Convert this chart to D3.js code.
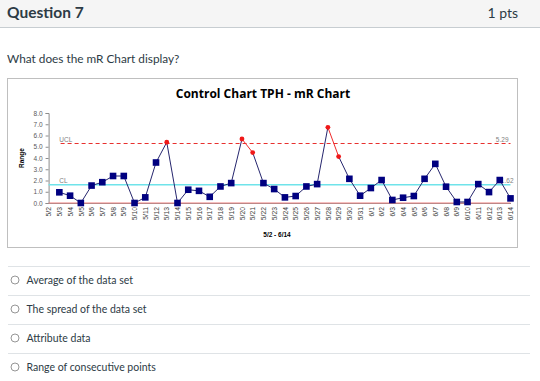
<!DOCTYPE html>
<html><head><meta charset="utf-8">
<script src="https://cdnjs.cloudflare.com/ajax/libs/d3/7.8.5/d3.min.js"></script>
<style>
html,body{margin:0;padding:0;background:#fff;}
svg{display:block;}
</style></head>
<body>
<svg id="c" width="540" height="381"></svg>
<script>
// ---- data ----
const categories = ["5/2","5/3","5/4","5/5","5/6","5/7","5/8","5/9","5/10","5/11","5/12","5/13","5/14","5/15","5/16","5/17","5/18","5/19","5/20","5/21","5/22","5/23","5/24","5/25","5/26","5/27","5/28","5/29","5/30","5/31","6/1","6/2","6/3","6/4","6/5","6/6","6/7","6/8","6/9","6/10","6/11","6/12","6/13","6/14"];
const mrValues = [null,0.95,0.65,0.0,1.55,1.85,2.4,2.4,0.0,0.5,3.6,5.4,0.0,1.18,1.08,0.55,1.47,1.77,5.69,4.48,1.77,1.24,0.5,0.62,1.47,1.68,6.73,4.13,2.15,0.65,1.33,2.04,0.27,0.47,0.62,2.15,3.48,1.45,0.09,0.09,1.68,0.97,2.04,0.41];
const outOfControl = ["5/13","5/20","5/21","5/28","5/29"];
const yTicks = [0,1,2,3,4,5,6,7,8];
const UCL = 5.29, CL = 1.62, LCL = 0;
const options = ["Average of the data set","The spread of the data set","Attribute data","Range of consecutive points"];

const svg = d3.select("#c");
const font = "Lato, 'Open Sans', sans-serif";

// ---- page header ----
svg.append("rect").attr("x",0).attr("y",0).attr("width",540).attr("height",27).attr("fill","#f5f5f5");
svg.append("line").attr("x1",0).attr("x2",540).attr("y1",27.5).attr("y2",27.5).attr("stroke","#c7cdd1");
svg.append("text").attr("x",7).attr("y",18).attr("font-family",font).attr("font-size",15.5).attr("font-weight","bold").attr("fill","#2d3b45").text("Question 7");
svg.append("text").attr("x",518).attr("y",18).attr("text-anchor","end").attr("font-family",font).attr("font-size",14).attr("fill","#2d3b45").text("1 pts");
svg.append("text").attr("x",7).attr("y",63).attr("font-family",font).attr("font-size",11.8).attr("fill","#2d3b45").text("What does the mR Chart display?");

// ---- chart box ----
svg.append("rect").attr("x",7.5).attr("y",78.5).attr("width",510).attr("height",169).attr("fill","#fff").attr("stroke","#bfbfbf");

const x = d3.scalePoint().domain(categories).range([48.6, 510.5]);
const y = d3.scaleLinear().domain([0,8]).range([203,113]);

const g = svg.append("g");
g.append("text").attr("x",263).attr("y",98).attr("text-anchor","middle").attr("font-family","'Open Sans', sans-serif").attr("font-weight","bold").attr("font-size",12).attr("fill","#000").text("Control Chart TPH - mR Chart");

// y axis
const yAxis = d3.axisLeft(y).tickValues(yTicks).tickFormat(d3.format(".1f")).tickSize(3).tickPadding(3);
const ya = g.append("g").attr("transform",`translate(${x("5/2")},0)`).call(yAxis);
ya.select(".domain").attr("stroke","#8c8c8c");
ya.selectAll(".tick line").attr("stroke","#8c8c8c");
ya.selectAll("text").attr("font-family","'Liberation Sans', sans-serif").attr("font-size",6.5).attr("fill","#595959");

g.append("text").attr("transform","translate(24,158) rotate(-90)").attr("text-anchor","middle").attr("font-family","'Liberation Sans', sans-serif").attr("font-weight","bold").attr("font-size",6.5).attr("fill","#000").text("Range");

// x axis
const xAxis = d3.axisBottom(x).tickSize(0).tickPadding(4);
const xa = g.append("g").attr("transform",`translate(0,${y(0)})`).call(xAxis);
xa.select(".domain").attr("stroke","#8c8c8c");
xa.selectAll("text").attr("font-family","'Liberation Sans', sans-serif").attr("font-size",6.8).attr("fill","#404040")
  .attr("transform","rotate(-90)").attr("text-anchor","end").attr("x",-4).attr("y",0).attr("dy","0.32em");
g.append("text").attr("x",277).attr("y",237).attr("text-anchor","middle").attr("font-family","'Liberation Sans', sans-serif").attr("font-weight","bold").attr("font-size",6.5).attr("fill","#000").text("5/2 - 6/14");

// control lines
const x0 = x("5/2"), x1 = x("6/14");
g.append("line").attr("x1",x0).attr("x2",x1).attr("y1",y(LCL)).attr("y2",y(LCL)).attr("stroke","#f08080").attr("stroke-width",1.2);
g.append("line").attr("x1",x0).attr("x2",x1).attr("y1",y(CL)).attr("y2",y(CL)).attr("stroke","#6fe3ea").attr("stroke-width",1.4);
g.append("line").attr("x1",x0+12).attr("x2",x1).attr("y1",y(UCL)).attr("y2",y(UCL)).attr("stroke","#e8302e").attr("stroke-width",1.2).attr("stroke-dasharray","4,3");
const lbl = (tx,ty,t,anchor)=>g.append("text").attr("x",tx).attr("y",ty).attr("text-anchor",anchor||"start").attr("font-family","'Liberation Sans', sans-serif").attr("font-size",6.5).attr("fill","#7f7f7f").text(t);
lbl(x("5/3"),y(UCL)-1.5,"UCL");
lbl(x("6/14")-2,y(UCL)-1.5,UCL.toFixed(2),"end");
lbl(x("5/3"),y(CL)-2,"CL");
lbl(x("6/14")+3,y(CL)-1.5,CL.toFixed(2),"end");

// series
const pts = categories.map((c,i)=>({c, v: mrValues[i], red: outOfControl.includes(c)})).filter(d=>d.v!==null);
for (let i=1;i<pts.length;i++){
  const a=pts[i-1], b=pts[i];
  g.append("line").attr("x1",x(a.c)).attr("y1",y(a.v)).attr("x2",x(b.c)).attr("y2",y(b.v))
   .attr("stroke", (a.red&&b.red)?"#ef2b2b":"#26266e").attr("stroke-width",1);
}
g.selectAll("rect.m").data(pts.filter(d=>!d.red)).join("rect").attr("class","m")
  .attr("x",d=>x(d.c)-3.3).attr("y",d=>y(d.v)-3.3).attr("width",6.6).attr("height",6.6).attr("fill","#000080");
g.selectAll("circle.r").data(pts.filter(d=>d.red)).join("circle").attr("class","r")
  .attr("cx",d=>x(d.c)).attr("cy",d=>y(d.v)).attr("r",2.4).attr("fill","#f01818");

// ---- answer options ----
const rowY = [266,295,324,353];
options.forEach((t,i)=>{
  svg.append("line").attr("x1",8).attr("x2",530).attr("y1",rowY[i]+0.5).attr("y2",rowY[i]+0.5).attr("stroke","#dfe3e6");
  svg.append("circle").attr("cx",15).attr("cy",rowY[i]+14).attr("r",4).attr("fill","#fff").attr("stroke","#8a8a8a").attr("stroke-width",0.9);
  svg.append("text").attr("x",26.5).attr("y",rowY[i]+17.5).attr("font-family",font).attr("font-size",10.5).attr("fill","#2d3b45").text(t);
});
</script>
</body></html>
